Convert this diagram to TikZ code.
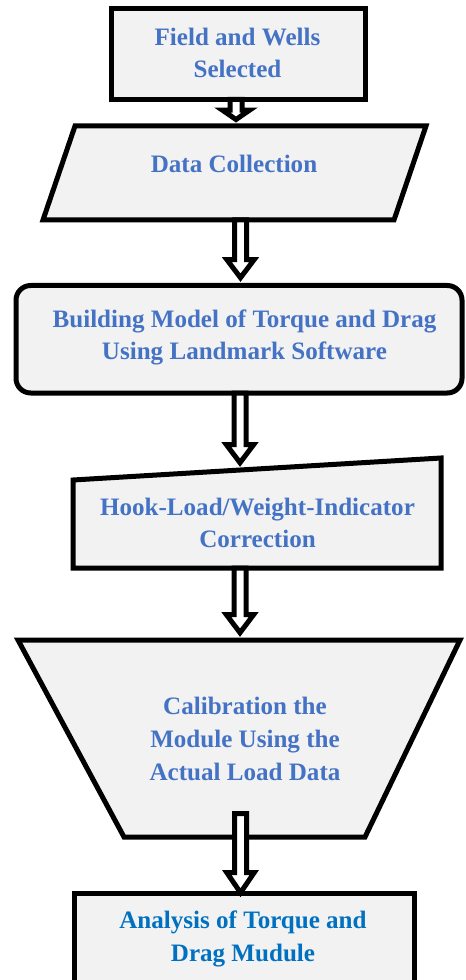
\documentclass[tikz,border=0pt]{standalone}
\usepackage{fontspec}
\setmainfont{Liberation Serif}
\usepackage{tikz}
\usetikzlibrary{calc}
\definecolor{ink}{RGB}{0,0,0}
\definecolor{stepfill}{RGB}{242,242,242}
\definecolor{stepblue}{RGB}{68,114,196}
\definecolor{endblue}{RGB}{0,112,192}
\tikzset{
  box/.style={draw=ink, fill=stepfill, line width=3.75pt, line join=miter},
  lbl/.style={align=center, inner sep=0pt, text=stepblue,
    font=\bfseries\fontsize{18.8}{24.5}\selectfont},
  flow/.style={draw=ink, fill=white, line width=3.75pt, line join=miter},
}
% hollow block arrow from #2 down to #3, #1 = head length
\newcommand{\flowarrow}[3][13.5pt]{%
  \draw[flow] let \p1=(#2), \p2=(#3) in
    (\x1-4.5pt,\y1) -- (\x1-4.5pt,\y2+#1) -- (\x1-10.2pt,\y2+#1) -- (\x1,\y2)
    -- (\x1+10.2pt,\y2+#1) -- (\x1+4.5pt,\y2+#1) -- (\x1+4.5pt,\y1) -- cycle;}

\begin{document}
\begin{tikzpicture}[x=0.75pt,y=-0.75pt]
  \clip (0,0) rectangle (465,980);
  % shapes
  \draw[box] (111,8.5) rectangle (365,99.5);
  \draw[box] (75,126) -- (426,126) -- (394,220) -- (43,220) -- cycle;
  \draw[box, rounded corners=11pt] (16,285.5) rectangle (462,393);
  \draw[box] (73,480) -- (441,458) -- (441,568) -- (73,568) -- cycle;
  \draw[box] (18,640) -- (460,640) -- (365,837) -- (124,837) -- cycle;
  \draw[box] (74,1000) -- (74,893) -- (414,893) -- (414,1000);
  % labels
  \node[lbl] (fws) at (237.5,53) {Field and Wells\\Selected};
  \node[lbl] (dc) at (234,163.5) {Data Collection};
  \node[lbl] (bm) at (244.5,337.5) {Building Model of Torque and Drag\\Using Landmark Software};
  \node[lbl] (hl) at (257.5,523) {Hook-Load/Weight-Indicator\\Correction};
  \node[lbl] (cal) at (245,739) {Calibration the\\Module Using the\\Actual Load Data};
  \node[lbl, text=endblue] (ana) at (243,939) {Analysis of Torque and\\Drag Mudule};
  % arrow ends
  \coordinate (fws-out) at (236,99.5);
  \coordinate (dc-in) at (236,119.5);
  \coordinate (dc-out) at (240.5,220);
  \coordinate (bm-in) at (240.5,277.7);
  \coordinate (bm-out) at (240,393);
  \coordinate (hl-in) at (240,462.7);
  \coordinate (hl-out) at (240,568);
  \coordinate (cal-in) at (240,632.7);
  \coordinate (cal-out) at (240.5,813.5);
  \coordinate (ana-in) at (240.5,892.7);
  \flowarrow[7pt]{fws-out}{dc-in}
  \flowarrow{dc-out}{bm-in}
  \flowarrow{bm-out}{hl-in}
  \flowarrow{hl-out}{cal-in}
  \flowarrow[15pt]{cal-out}{ana-in}
\end{tikzpicture}
\end{document}
